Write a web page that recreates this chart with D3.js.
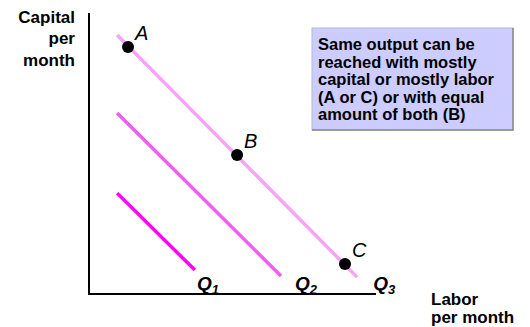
<!DOCTYPE html>
<html lang="en">
<head>
    <meta charset="UTF-8">
    <title>Isoquants</title>
    <script src="https://d3js.org/d3.v7.min.js"></script>
<style>
    body { margin: 0; background: #fff; }
    text { font-family: Arial, "Liberation Sans", sans-serif; fill: #000; }
</style>
</head>
<body>
</body>
<script>

// isoquants (labor, capital in chart units 0..10)
const isoquants = ['Q1', 'Q2', 'Q3'];
const laborStart = [0.98, 0.98, 0.98];
const capitalStart = [3.59, 6.44, 9.22];
const laborEnd = [3.69, 6.69, 9.34];
const capitalEnd = [0.85, 0.64, 0.60];
const isoLabelLabor = [3.76, 7.18, 9.9];

// points on Q3
const points = ['A', 'B', 'C'];
const pointLabor = [1.36, 5.16, 8.92];
const pointCapital = [8.79, 4.95, 1.07];

const yTitle = ['Capital', 'per', 'month'];
const xTitle = ['Labor', 'per month'];
const note = ['Same output can be', 'reached with mostly', 'capital or mostly labor',
              '(A or C) or with equal', 'amount of both (B)'];

const colors = ['#ff00ff', '#f25cf2', '#f8a2f8'];

const W = 530, H = 327;
const x = d3.scaleLinear().domain([0, 10]).range([89, 376]);
const y = d3.scaleLinear().domain([0, 10]).range([294, 13]);

const svg = d3.select('body').append('svg').attr('width', W).attr('height', H);

// axes (plain lines, no ticks)
svg.append('line').attr('x1', x(0)).attr('x2', x(0)).attr('y1', y(10)).attr('y2', y(0))
    .attr('stroke', '#000').attr('stroke-width', 2);
svg.append('line').attr('x1', x(0) - 1).attr('x2', x(10)).attr('y1', y(0)).attr('y2', y(0))
    .attr('stroke', '#000').attr('stroke-width', 2);

// isoquant lines
svg.selectAll('line.iso')
    .data(isoquants)
    .join('line')
    .attr('class', 'iso')
    .attr('x1', (d, i) => x(laborStart[i]))
    .attr('y1', (d, i) => y(capitalStart[i]))
    .attr('x2', (d, i) => x(laborEnd[i]))
    .attr('y2', (d, i) => y(capitalEnd[i]))
    .attr('stroke', (d, i) => colors[i])
    .attr('stroke-width', 3.5);

// Q labels
const ql = svg.selectAll('text.q')
    .data(isoquants)
    .join('text')
    .attr('class', 'q')
    .attr('x', (d, i) => x(isoLabelLabor[i]))
    .attr('y', 290)
    .style('font-weight', 'bold')
    .style('font-style', 'italic')
    .style('font-size', '19px');
ql.append('tspan').text(d => d[0]);
ql.append('tspan').attr('dy', 4).style('font-size', '13px').text(d => d.slice(1));

// points
svg.selectAll('circle')
    .data(points)
    .join('circle')
    .attr('cx', (d, i) => x(pointLabor[i]))
    .attr('cy', (d, i) => y(pointCapital[i]))
    .attr('r', 6)
    .attr('fill', '#000');

svg.selectAll('text.pt')
    .data(points)
    .join('text')
    .attr('class', 'pt')
    .attr('x', (d, i) => x(pointLabor[i]) + 7)
    .attr('y', (d, i) => y(pointCapital[i]) - 7)
    .style('font-style', 'italic')
    .style('font-size', '20px')
    .text(d => d);

// axis titles
svg.append('text')
    .attr('text-anchor', 'end')
    .style('font-weight', 'bold').style('font-size', '17px')
    .selectAll('tspan')
    .data(yTitle)
    .join('tspan')
    .attr('x', 75)
    .attr('y', (d, i) => 22.5 + i * 21.5)
    .text(d => d);

svg.append('text')
    .style('font-weight', 'bold').style('font-size', '17px')
    .selectAll('tspan')
    .data(xTitle)
    .join('tspan')
    .attr('x', 431)
    .attr('y', (d, i) => 305 + i * 17.5)
    .text(d => d);

// note box
const bx = 312, by = 28, bw = 201, bh = 102;
svg.append('rect').attr('x', bx).attr('y', by).attr('width', bw).attr('height', bh)
    .attr('fill', '#ccccff').attr('stroke', '#b8b8d8').attr('stroke-width', 1);
svg.append('path')
    .attr('d', `M${bx + bw},${by} V${by + bh} H${bx}`)
    .attr('fill', 'none').attr('stroke', '#888').attr('stroke-width', 1.5);

svg.append('text')
    .style('font-weight', 'bold').style('font-size', '16.5px')
    .selectAll('tspan')
    .data(note)
    .join('tspan')
    .attr('x', bx + 6)
    .attr('y', (d, i) => by + 22 + i * 17.5)
    .text(d => d);

</script>
</html>
